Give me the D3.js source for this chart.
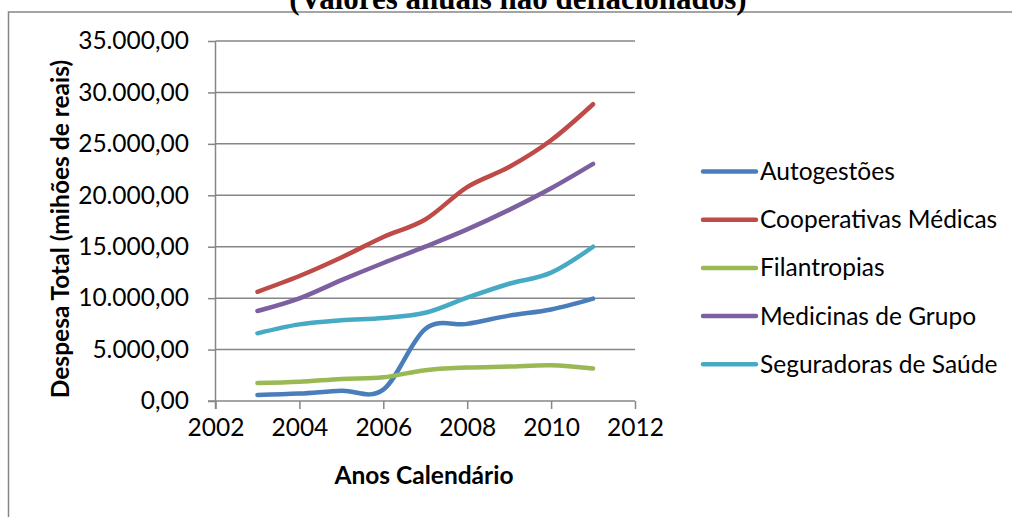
<!DOCTYPE html>
<html>
<head>
<meta charset="utf-8">
<script src="https://cdn.jsdelivr.net/npm/d3@7"></script>
<style>
  html, body { margin: 0; padding: 0; background: #ffffff; overflow: hidden; }
  svg { display: block; }
</style>
</head>
<body>
<svg id="chart" width="1012" height="517"></svg>
<script>
// ---- data ----
const years = [2003, 2004, 2005, 2006, 2007, 2008, 2009, 2010, 2011];
const seriesNames = ["Autogestões", "Cooperativas Médicas", "Filantropias", "Medicinas de Grupo", "Seguradoras de Saúde"];
const autogestoes = [580, 720, 1000, 1100, 7000, 7500, 8300, 8900, 9950];
const cooperativas = [10620, 12150, 13950, 15950, 17650, 20800, 22750, 25350, 28850];
const filantropias = [1750, 1880, 2150, 2300, 3000, 3250, 3350, 3480, 3150];
const medicinas = [8750, 9980, 11750, 13420, 15000, 16680, 18580, 20680, 23050];
const seguradoras = [6580, 7450, 7850, 8080, 8580, 10050, 11400, 12480, 15000];
const seriesColors = ["#4A7EBB", "#BE4B48", "#98B954", "#7D60A0", "#46AAC5"];
const xTicks = [2002, 2004, 2006, 2008, 2010, 2012];
const yTicks = [0, 5000, 10000, 15000, 20000, 25000, 30000, 35000];
const titleText = "(Valores anuais não deflacionados)";
const xTitle = "Anos Calendário";
const yTitle = "Despesa Total (mihões de reais)";

const seriesValues = [autogestoes, cooperativas, filantropias, medicinas, seguradoras];

// ---- layout ----
const svg = d3.select("#chart");
const plot = { left: 215.5, right: 635, top: 41, bottom: 401 };
const gridColor = "#868686";
const font = "Lato, 'Open Sans', sans-serif";
const fs = 24.5;

const x = d3.scaleLinear().domain([2002, 2012]).range([plot.left, plot.right]);
const y = d3.scaleLinear().domain([0, 35000]).range([plot.bottom, plot.top]);

// outer chart border
svg.append("rect")
  .attr("x", 8.5).attr("y", 12)
  .attr("width", 1100).attr("height", 600)
  .attr("fill", "none").attr("stroke", gridColor).attr("stroke-width", 1.5);

// title (cut off at the top, as in the reference)
svg.append("text")
  .attr("x", 518).attr("y", 9)
  .attr("text-anchor", "middle")
  .attr("font-family", "'Liberation Serif', 'Times New Roman', serif")
  .attr("font-weight", "bold")
  .attr("font-size", 31)
  .attr("fill", "#000")
  .text(titleText);

// horizontal gridlines
svg.append("g").selectAll("line").data(yTicks.filter(d => d > 0)).join("line")
  .attr("x1", plot.left).attr("x2", plot.right)
  .attr("y1", d => y(d)).attr("y2", d => y(d))
  .attr("stroke", gridColor).attr("stroke-width", 1.5);

// y axis
const yAxis = d3.axisLeft(y).tickValues(yTicks).tickSize(7.5).tickPadding(19)
  .tickFormat(d => d3.format(",.2f")(d).replace(/,/g, "#").replace(".", ",").replace(/#/g, "."));
const gy = svg.append("g").attr("transform", `translate(${plot.left},0)`).call(yAxis);
gy.select(".domain").remove();
gy.selectAll(".tick line").attr("stroke", gridColor).attr("stroke-width", 1.5);
gy.selectAll(".tick text").attr("font-family", font).attr("font-size", fs).attr("fill", "#000");
svg.append("line")
  .attr("x1", plot.left).attr("x2", plot.left)
  .attr("y1", plot.top).attr("y2", plot.bottom + 8)
  .attr("stroke", gridColor).attr("stroke-width", 1.5);

// x axis
const xAxis = d3.axisBottom(x).tickValues(xTicks).tickSize(8).tickPadding(10).tickFormat(d3.format("d"));
const gx = svg.append("g").attr("transform", `translate(0,${plot.bottom})`).call(xAxis);
gx.select(".domain").remove();
gx.selectAll(".tick line").attr("stroke", gridColor).attr("stroke-width", 1.5);
gx.selectAll(".tick text").attr("font-family", font).attr("font-size", fs).attr("fill", "#000");
svg.append("line")
  .attr("x1", plot.left - 7.5).attr("x2", plot.right)
  .attr("y1", plot.bottom).attr("y2", plot.bottom)
  .attr("stroke", gridColor).attr("stroke-width", 1.5);

// axis titles
svg.append("text")
  .attr("x", 424).attr("y", 484)
  .attr("text-anchor", "middle")
  .attr("font-family", font).attr("font-weight", "bold").attr("font-size", fs)
  .text(xTitle);
svg.append("text")
  .attr("transform", "translate(69,229) rotate(-90)")
  .attr("text-anchor", "middle")
  .attr("font-family", font).attr("font-weight", "bold").attr("font-size", fs)
  .text(yTitle);

// lines
const line = d3.line()
  .x((d, i) => x(years[i]))
  .y(d => y(d))
  .curve(d3.curveCardinal.tension(0));
svg.append("g").selectAll("path").data(seriesValues).join("path")
  .attr("d", d => line(d))
  .attr("fill", "none")
  .attr("stroke", (d, i) => seriesColors[i])
  .attr("stroke-width", 4.5)
  .attr("stroke-linecap", "round")
  .attr("stroke-linejoin", "round");

// legend
const legend = svg.append("g").selectAll("g").data(seriesNames).join("g")
  .attr("transform", (d, i) => `translate(703,${171.5 + i * 48.2})`);
legend.append("line")
  .attr("x1", 0).attr("x2", 53)
  .attr("stroke", (d, i) => seriesColors[i])
  .attr("stroke-width", 4.5)
  .attr("stroke-linecap", "round");
legend.append("text")
  .attr("x", 57).attr("dy", "0.35em")
  .attr("font-family", font).attr("font-size", fs)
  .text(d => d);
</script>
</body>
</html>
